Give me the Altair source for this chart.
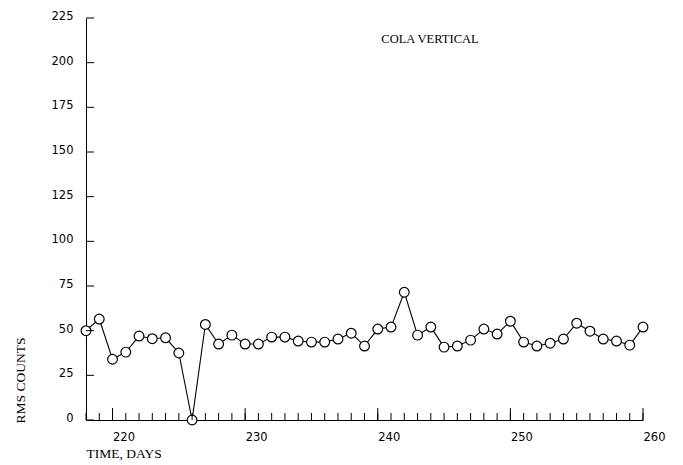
import altair as alt
import pandas as pd

# ---- data ----
days = list(range(218, 261))
rms = [50, 56.5, 34, 38, 47, 45.5, 46, 37.5, 0, 53.5,
       42.5, 47.5, 42.5, 42.5, 46.4, 46.4, 44.2, 43.6, 43.6, 45.3,
       48.6, 41.4, 50.9, 52.0, 71.5, 47.5, 52.0, 40.8, 41.4, 44.7,
       50.9, 48.1, 55.3, 43.6, 41.4, 43.0, 45.3, 54.2, 49.7, 45.3,
       44.2, 41.9, 52.0]
y_tick_values = [0, 25, 50, 75, 100, 125, 150, 175, 200, 225]
x_label_values = [220, 230, 240, 250, 260]
minor_tick_days = days
major_tick_days = [220, 230, 240, 250, 260]
chart_label = "COLA VERTICAL"
x_title = "TIME, DAYS"
y_title = "RMS COUNTS"

W, H = 557, 402

df = pd.DataFrame({"day": days, "rms": rms})
xscale = alt.Scale(domain=[218, 260], nice=False, zero=False)
yscale = alt.Scale(domain=[0, 225], nice=False, zero=True)

x_axis = alt.Axis(
    values=x_label_values, ticks=False, grid=False, domainColor="black",
    domainWidth=1, labelAlign="left", labelBaseline="top", labelPadding=11,
    labelFont="DejaVu Sans", labelFontSize=11.5, labelColor="black",
    title=x_title, titleFont="Liberation Serif", titleFontSize=13.5,
    titleFontWeight="normal", titleColor="black", titleAlign="left",
    titleBaseline="alphabetic", titleX=0, titleY=37,
)
y_axis = alt.Axis(
    values=y_tick_values, ticks=False, grid=False, domainColor="black",
    domainWidth=1, labelAlign="right", labelBaseline="middle",
    labelOffset=-1.5, labelPadding=13, labelFont="DejaVu Sans",
    labelFontSize=11.5, labelColor="black",
    title=y_title, titleFont="Liberation Serif", titleFontSize=13.5,
    titleFontWeight="normal", titleColor="black", titleAngle=270,
    titleAlign="left", titleBaseline="alphabetic", titleX=-62, titleY=405,
)

X = alt.X("day:Q", scale=xscale, axis=x_axis)
Y = alt.Y("rms:Q", scale=yscale, axis=y_axis)

line = alt.Chart(df).mark_line(color="black", strokeWidth=1.1).encode(x=X, y=Y)
points = alt.Chart(df).mark_point(
    shape="circle", filled=True, fill="white", stroke="black",
    strokeWidth=1.2, size=95, opacity=1
).encode(x=X, y=Y)

minor = alt.Chart(pd.DataFrame({"day": minor_tick_days})).mark_rule(
    color="black", strokeWidth=1
).encode(x=X, y=alt.value(H), y2=alt.value(H - 7))
major = alt.Chart(pd.DataFrame({"day": major_tick_days})).mark_rule(
    color="black", strokeWidth=1
).encode(x=X, y=alt.value(H), y2=alt.value(H - 12))
yticks = alt.Chart(pd.DataFrame({"rms": y_tick_values})).mark_rule(
    color="black", strokeWidth=1
).encode(y=Y, x=alt.value(0), x2=alt.value(8))
label = alt.Chart(pd.DataFrame({"t": [chart_label]})).mark_text(
    font="Liberation Serif", fontSize=12.5, color="black",
    align="center", baseline="middle"
).encode(text="t:N", x=alt.value(344), y=alt.value(21))

chart = alt.layer(line, points, minor, major, yticks, label).properties(
    width=W, height=H,
    autosize=alt.AutoSizeParams(type="none"),
    padding={"left": 86, "top": 18, "right": 40, "bottom": 45},
    background="white",
).configure_view(stroke=None)

chart.save("out.html", embed_options={"renderer": "svg", "actions": False})
